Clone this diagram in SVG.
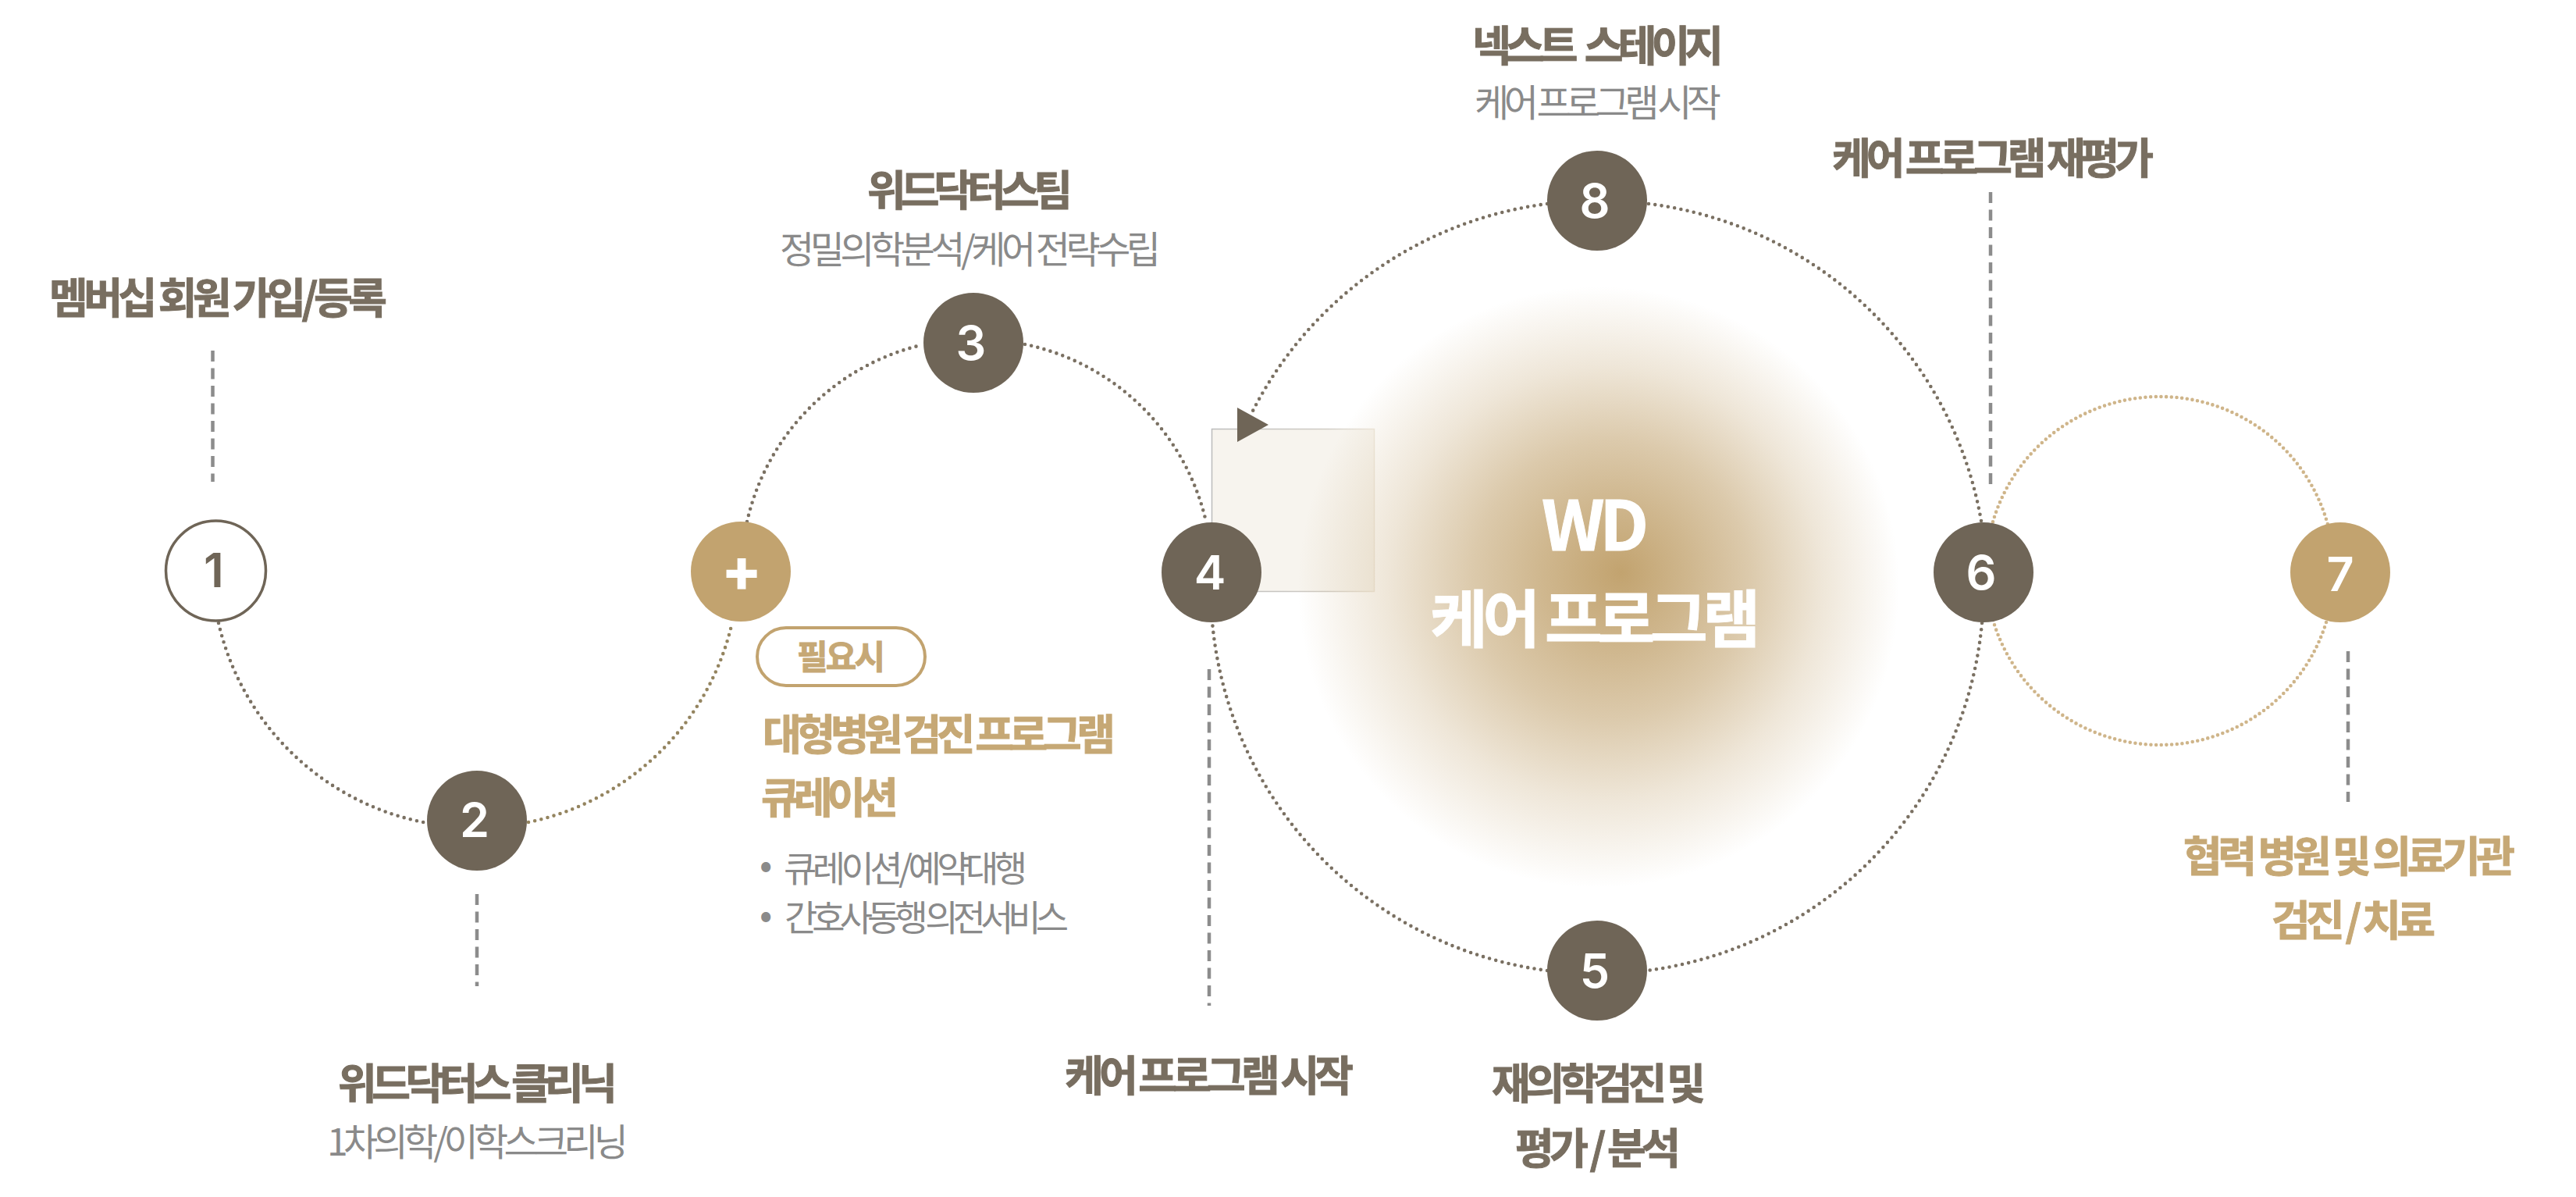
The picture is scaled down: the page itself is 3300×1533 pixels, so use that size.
<svg xmlns="http://www.w3.org/2000/svg" width="3300" height="1533" viewBox="0 0 3300 1533">
<style>
text{font-family:"Noto Sans CJK KR","Noto Sans",sans-serif}
.t{font-size:54px;font-weight:700;fill:#786e60;stroke:#786e60;stroke-width:1}
.s{font-size:48px;font-weight:400;fill:#8a8a8a}
.g{font-size:54px;font-weight:700;fill:#c6a875;stroke:#c6a875;stroke-width:1}
.w{font-weight:700;fill:#fff;stroke:#fff;stroke-width:1}
.n{font-family:Inter,"Noto Sans",sans-serif;font-size:61px;font-weight:600;fill:#fff;text-anchor:middle}
.brown{fill:#6f6557}
.gold{fill:#c2a36f}
.dot{fill:none;stroke:#7a7062;stroke-width:4.600;stroke-linecap:round;stroke-dasharray:0 8.400}
.dotm{fill:none;stroke:#94845f;stroke-width:4.600;stroke-linecap:round;stroke-dasharray:0 8.400}
.dotg{fill:none;stroke:#cfb58a;stroke-width:4.600;stroke-linecap:round;stroke-dasharray:0 6.700}
.dash{fill:none;stroke:#8c8c8c;stroke-width:4.500;stroke-dasharray:14 8.500}
</style>
<defs>
<radialGradient id="glow" gradientUnits="userSpaceOnUse" cx="2048" cy="752" r="385" fx="2077" fy="733">
<stop offset="0" stop-color="#c2a36f" stop-opacity="1"/>
<stop offset=".25" stop-color="#c2a36f" stop-opacity=".78"/>
<stop offset=".46" stop-color="#c2a36f" stop-opacity=".58"/>
<stop offset=".72" stop-color="#c2a36f" stop-opacity=".27"/>
<stop offset="1" stop-color="#c2a36f" stop-opacity="0"/>
</radialGradient>
<linearGradient id="edge" gradientUnits="userSpaceOnUse" x1="1552" y1="0" x2="1761" y2="0">
<stop offset="0" stop-color="#bcbcbc"/>
<stop offset=".7" stop-color="#cfcbc4"/>
<stop offset="1" stop-color="#efe9de"/>
</linearGradient>
</defs>
<rect width="3300" height="1533" fill="#fff"/>
<rect x="1552.500" y="549.500" width="208" height="208" fill="#f7f4ee" stroke="url(#edge)" stroke-width="1.500"/>
<circle cx="2048" cy="752" r="385" fill="url(#glow)"/>
<g id="connectors">
<path class="dot" d="M280 798A337.500 337.500 0 0 0 547 1054"/>
<path class="dotm" d="M677 1053A337.500 337.500 0 0 0 938 797"/>
<path class="dot" d="M957 668A301 301 0 0 1 1180 442"/>
<path class="dot" d="M1313 441A301 301 0 0 1 1545 668"/>
<path class="dot" d="M1982 1243A495 495 0 0 1 1553 797"/>
<path class="dot" d="M2539 798A495 495 0 0 1 2110 1243"/>
<path class="dot" d="M2112 261A495 495 0 0 1 2538 667"/>
<path class="dot" d="M1982 261A495 495 0 0 0 1603 530"/>
<polygon class="brown" points="1585,522 1585,566 1625,544"/>
<circle class="dotg" cx="2767" cy="731" r="223"/>
<path class="dash" d="M272.500 449V617"/>
<path class="dash" d="M611 1145V1263"/>
<path class="dash" d="M1549 857V1288"/>
<path class="dash" d="M2550 246V628"/>
<path class="dash" d="M3008 834V1027"/>
</g>
<g id="node-1">
<circle cx="276.500" cy="731" r="64" fill="#fff" stroke="#6f6557" stroke-width="3.500"/>
<text class="n" x="274" y="752" style="fill:#6f6557">1</text>
<text class="t" x="63" y="402" textLength="433" lengthAdjust="spacing">멤버십 회원 가입/등록</text>
</g>
<g id="node-2">
<circle class="brown" cx="611" cy="1051" r="64"/>
<text class="n" x="608" y="1072">2</text>
<text class="t" x="433" y="1408" textLength="358" lengthAdjust="spacing">위드닥터스 클리닉</text>
<text class="s" x="419" y="1480" textLength="386" lengthAdjust="spacing">1차의학/이학스크리닝</text>
</g>
<g id="node-plus">
<circle class="gold" cx="949" cy="732" r="64"/>
<text class="n" x="950" y="757" style="font-size:76px;font-weight:800">+</text>
<rect x="970" y="804" width="215" height="74" rx="37" fill="#fff" stroke="#c2a36f" stroke-width="4"/>
<text class="g" x="1021" y="857" textLength="113" lengthAdjust="spacing" style="font-size:43px">필요시</text>
<text class="g" x="977" y="961" textLength="452" lengthAdjust="spacing">대형병원 검진 프로그램</text>
<text class="g" x="975" y="1042" textLength="176" lengthAdjust="spacing">큐레이션</text>
<text class="s" x="973" y="1125">•</text>
<text class="s" x="1004" y="1129" textLength="312" lengthAdjust="spacing" style="font-size:46px">큐레이션/예약대행</text>
<text class="s" x="973" y="1189">•</text>
<text class="s" x="1005" y="1192" textLength="364" lengthAdjust="spacing" style="font-size:46px">간호사동행 의전서비스</text>
</g>
<g id="node-3">
<circle class="brown" cx="1247" cy="439" r="64"/>
<text class="n" x="1244" y="461">3</text>
<text class="t" x="1111" y="264" textLength="263" lengthAdjust="spacing">위드닥터스팀</text>
<text class="s" x="999" y="337" textLength="488" lengthAdjust="spacing">정밀의학분석/케어 전략수립</text>
</g>
<g id="node-4">
<circle class="brown" cx="1552" cy="733" r="64"/>
<text class="n" x="1550" y="755">4</text>
<text class="t" x="1364" y="1398" textLength="370" lengthAdjust="spacing">케어 프로그램 시작</text>
</g>
<g id="node-5">
<circle class="brown" cx="2046" cy="1243" r="64"/>
<text class="n" x="2043" y="1265">5</text>
<text class="t" x="1911" y="1408" textLength="274" lengthAdjust="spacing">재의학검진 및</text>
<text class="t" x="1941" y="1491" textLength="212" lengthAdjust="spacing">평가 / 분석</text>
</g>
<g id="node-6">
<circle class="brown" cx="2541" cy="733" r="64"/>
<text class="n" x="2538" y="755">6</text>
<text class="t" x="2347" y="223" textLength="412" lengthAdjust="spacing">케어 프로그램 재평가</text>
</g>
<g id="node-7">
<circle class="gold" cx="2998" cy="733" r="64"/>
<text class="n" x="2998" y="757">7</text>
<text class="g" x="2797" y="1117" textLength="425" lengthAdjust="spacing">협력 병원 및 의료기관</text>
<text class="g" x="2910" y="1199" textLength="210" lengthAdjust="spacing">검진 / 치료</text>
</g>
<g id="node-8">
<circle class="brown" cx="2046" cy="257" r="64"/>
<text class="n" x="2043" y="279">8</text>
<text class="t" x="1886" y="79" textLength="322" lengthAdjust="spacing" style="word-spacing:10px">넥스트 스테이지</text>
<text class="s" x="1889" y="149" textLength="316" lengthAdjust="spacing">케어 프로그램 시작</text>
</g>
<g id="center">
<text class="w" x="1975" y="705" textLength="137" lengthAdjust="spacing" style="font-size:88px">WD</text>
<text class="w" x="1832" y="822" textLength="423" lengthAdjust="spacing" style="font-size:80px">케어 프로그램</text>
</g>
</svg>
